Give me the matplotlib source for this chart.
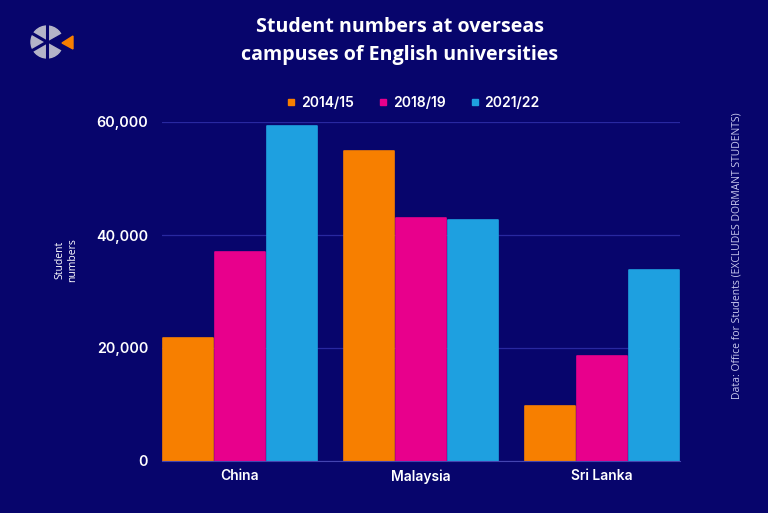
import matplotlib
matplotlib.use("Agg")
import matplotlib.pyplot as plt
import numpy as np
from matplotlib.patches import Circle, Polygon
from matplotlib.lines import Line2D
from matplotlib.ticker import FuncFormatter

# ---- data ----
categories = ["China", "Malaysia", "Sri Lanka"]
series_names = ["2014/15", "2018/19", "2021/22"]
values_2014 = [21800, 54800, 9700]
values_2018 = [37000, 43000, 18500]
values_2021 = [59300, 42700, 33800]
series_values = [values_2014, values_2018, values_2021]
y_ticks = [0, 20000, 40000, 60000]

colors = ["#F77F00", "#E8008C", "#1EA0E0"]
bg = "#07056C"
grid_c = "#2828A0"
W, H = 768, 513

fig = plt.figure(figsize=(W / 100, H / 100), dpi=100, facecolor=bg)

ax = fig.add_axes([162 / W, 1 - 461 / H, (680 - 162) / W, (461 - 122) / H])
ax.set_facecolor(bg)

x = np.arange(len(categories))
bw = 0.287
for i, (name, vals) in enumerate(zip(series_names, series_values)):
    ax.bar(x + (i - 1) * bw, vals, width=bw * 0.975, color=colors[i],
           edgecolor=colors[i], linewidth=1.2, joinstyle="round",
           label=name, zorder=3)

ax.set_xlim(-1.5 * bw, 2 + 1.5 * bw)
ax.set_ylim(0, 60000)
ax.set_yticks(y_ticks)
ax.yaxis.set_major_formatter(FuncFormatter(lambda v, p: f"{int(v):,}"))
ax.set_xticks(x)
ax.set_xticklabels(categories)
for sp in ["top", "right", "left"]:
    ax.spines[sp].set_visible(False)
ax.spines["bottom"].set_color("#4444B0")
ax.spines["bottom"].set_linewidth(0.8)
ax.spines["bottom"].set_zorder(4)
ax.tick_params(axis="both", length=0, colors="white")
ax.tick_params(axis="y", pad=10)
ax.tick_params(axis="x", pad=6)
for lab in ax.get_yticklabels():
    lab.set_fontfamily("Inter")
    lab.set_fontweight("semibold")
    lab.set_fontsize(10.3)
for lab in ax.get_xticklabels():
    lab.set_fontfamily("Inter")
    lab.set_fontweight("semibold")
    lab.set_fontsize(10)
ax.yaxis.grid(True, color=grid_c, linewidth=0.9, zorder=0)
ax.set_axisbelow(True)

# y label
fig.text(66 / W, 1 - 260 / H, "Student\nnumbers", rotation=90, color="white",
         fontsize=7.5, fontfamily="Open Sans", ha="center", va="center",
         linespacing=1.2)

# source
fig.text(737 / W, 1 - 256 / H,
         "Data: Office for Students (EXCLUDES DORMANT STUDENTS)",
         rotation=90, color="#C8C8EE", fontsize=7.5, fontfamily="Open Sans",
         ha="center", va="center")

# title
fig.text(400 / W, 1 - 41 / H,
         "Student numbers at overseas\ncampuses of English universities",
         color="white", fontsize=14.1, fontweight="bold", fontfamily="Open Sans",
         ha="center", va="center", linespacing=1.5)

# legend
leg = fig.legend(handles=[Line2D([], [], marker="s", linestyle="none",
                                 markersize=4.5, color=c) for c in colors],
                 labels=series_names, loc="center", ncol=3,
                 bbox_to_anchor=(412 / W, 1 - 103 / H), frameon=False,
                 handletextpad=0.2, columnspacing=1.6, handlelength=1.0,
                 prop={"family": "Inter", "weight": "semibold", "size": 10})
for t in leg.get_texts():
    t.set_color("white")

# logo
lax = fig.add_axes([0, 0, 1, 1], facecolor="none")
lax.set_xlim(0, W)
lax.set_ylim(H, 0)
lax.axis("off")
cx, cy, r = 47, 42, 16
lax.add_patch(Circle((cx, cy), r, color="#B4B4C8", zorder=2))
for ang in [90, 270, 150, 210]:
    a = np.deg2rad(ang)
    lax.plot([cx, cx + r * np.cos(a)], [cy, cy - r * np.sin(a)],
             color=bg, linewidth=2.2, zorder=3)
lax.add_patch(Polygon([[cx + 1, cy], [cx + r + 1, cy - 9], [cx + r + 1, cy + 9]],
                      closed=True, color=bg, zorder=3))
lax.add_patch(Polygon([[62, 43], [73, 36], [73, 49]], closed=True,
                      color="#F77F00", zorder=4))

fig.savefig("out.png", dpi=100, facecolor=bg)
